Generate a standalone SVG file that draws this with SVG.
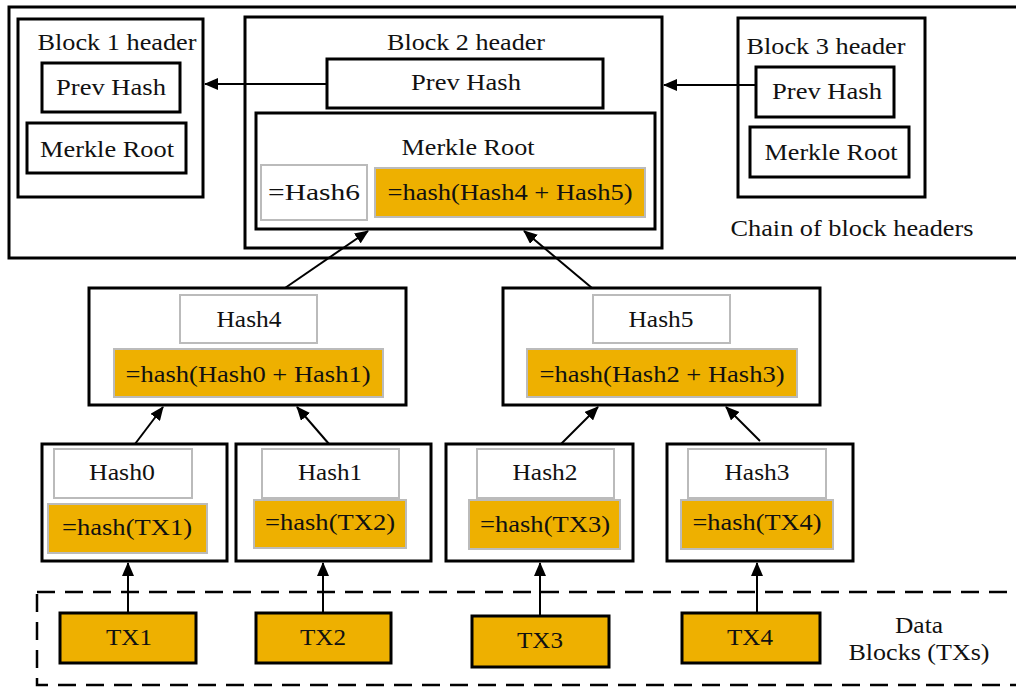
<svg xmlns="http://www.w3.org/2000/svg" width="1016" height="687" viewBox="0 0 1016 687">
<style>
text{font-family:"Liberation Serif","Times New Roman",serif;font-size:23px;fill:#111;text-anchor:middle}
.blk{fill:#fff;stroke:#000;stroke-width:3}
.wbox{fill:#fff;stroke:#bbb;stroke-width:2}
.obox{fill:#EEB000;stroke:#bbb;stroke-width:2}
.tx{fill:#EEB000;stroke:#000;stroke-width:3}
.con{stroke:#000;stroke-width:2;fill:none}
</style>
<defs>
<marker id="ah" markerUnits="userSpaceOnUse" markerWidth="14" markerHeight="12" refX="13" refY="6" orient="auto">
<path d="M0,0 L14,6 L0,12 z" fill="#000"/>
</marker>
</defs>
<rect width="1016" height="687" fill="#fff"/>
<g id="chain">
<rect x="9" y="7" width="1020" height="251" fill="#fff" stroke="#000" stroke-width="3"/>
<text x="852" y="236" textLength="243" lengthAdjust="spacingAndGlyphs">Chain of block headers</text>
</g>
<g id="data-blocks">
<rect x="37" y="592" width="995" height="93" fill="none" stroke="#000" stroke-width="2.5" stroke-dasharray="18 10"/>
<text x="919" y="633" textLength="48" lengthAdjust="spacingAndGlyphs">Data</text>
<text x="919" y="660" textLength="141" lengthAdjust="spacingAndGlyphs">Blocks (TXs)</text>
</g>
<g id="block1">
<rect class="blk" x="18" y="19" width="185" height="178"/>
<text x="117" y="50" textLength="159" lengthAdjust="spacingAndGlyphs">Block 1 header</text>
<rect class="blk" x="42" y="63" width="138" height="49"/>
<text x="111" y="95" textLength="110" lengthAdjust="spacingAndGlyphs">Prev Hash</text>
<rect class="blk" x="27" y="123" width="159" height="50"/>
<text x="107" y="157" textLength="134" lengthAdjust="spacingAndGlyphs">Merkle Root</text>
</g>
<g id="block2">
<rect class="blk" x="245" y="17" width="417" height="231"/>
<text x="466" y="50" textLength="158" lengthAdjust="spacingAndGlyphs">Block 2 header</text>
<rect class="blk" x="327" y="59" width="276" height="49"/>
<text x="466" y="90" textLength="110" lengthAdjust="spacingAndGlyphs">Prev Hash</text>
<rect class="blk" x="256" y="113" width="399" height="116"/>
<text x="468" y="155" textLength="133" lengthAdjust="spacingAndGlyphs">Merkle Root</text>
<rect class="wbox" x="261" y="165" width="106" height="55"/>
<text x="314" y="200" textLength="92" lengthAdjust="spacingAndGlyphs">=Hash6</text>
<rect class="obox" x="375" y="168" width="270" height="49"/>
<text x="510" y="200" textLength="245" lengthAdjust="spacingAndGlyphs">=hash(Hash4 + Hash5)</text>
</g>
<g id="block3">
<rect class="blk" x="738" y="18" width="187" height="179"/>
<text x="826" y="54" textLength="159" lengthAdjust="spacingAndGlyphs">Block 3 header</text>
<rect class="blk" x="756" y="67" width="138" height="50"/>
<text x="827" y="99" textLength="110" lengthAdjust="spacingAndGlyphs">Prev Hash</text>
<rect class="blk" x="750" y="127" width="159" height="50"/>
<text x="831" y="160" textLength="133" lengthAdjust="spacingAndGlyphs">Merkle Root</text>
</g>
<g id="hash4">
<rect class="blk" x="89" y="288" width="317" height="117"/>
<rect class="wbox" x="180" y="295" width="137" height="48"/>
<text x="249" y="327" textLength="65" lengthAdjust="spacingAndGlyphs">Hash4</text>
<rect class="obox" x="114" y="349" width="269" height="48"/>
<text x="248" y="382" textLength="245" lengthAdjust="spacingAndGlyphs">=hash(Hash0 + Hash1)</text>
</g>
<g id="hash5">
<rect class="blk" x="503" y="288" width="317" height="117"/>
<rect class="wbox" x="593" y="295" width="137" height="48"/>
<text x="661" y="327" textLength="65" lengthAdjust="spacingAndGlyphs">Hash5</text>
<rect class="obox" x="527" y="349" width="270" height="48"/>
<text x="662" y="382" textLength="245" lengthAdjust="spacingAndGlyphs">=hash(Hash2 + Hash3)</text>
</g>
<g id="hash0">
<rect class="blk" x="42" y="444" width="185" height="117"/>
<rect class="wbox" x="54" y="449" width="138" height="49"/>
<text x="122" y="480" textLength="66" lengthAdjust="spacingAndGlyphs">Hash0</text>
<rect class="obox" x="48" y="504" width="159" height="49"/>
<text x="127" y="535" textLength="130" lengthAdjust="spacingAndGlyphs">=hash(TX1)</text>
</g>
<g id="hash1">
<rect class="blk" x="236" y="444" width="195" height="117"/>
<rect class="wbox" x="262" y="449" width="137" height="49"/>
<text x="330" y="480" textLength="64" lengthAdjust="spacingAndGlyphs">Hash1</text>
<rect class="obox" x="254" y="500" width="152" height="48"/>
<text x="330" y="530" textLength="130" lengthAdjust="spacingAndGlyphs">=hash(TX2)</text>
</g>
<g id="hash2">
<rect class="blk" x="446" y="444" width="187" height="117"/>
<rect class="wbox" x="477" y="449" width="137" height="49"/>
<text x="545" y="480" textLength="65" lengthAdjust="spacingAndGlyphs">Hash2</text>
<rect class="obox" x="469" y="500" width="151" height="49"/>
<text x="545" y="532" textLength="130" lengthAdjust="spacingAndGlyphs">=hash(TX3)</text>
</g>
<g id="hash3">
<rect class="blk" x="667" y="444" width="186" height="117"/>
<rect class="wbox" x="688" y="449" width="138" height="49"/>
<text x="757" y="480" textLength="65" lengthAdjust="spacingAndGlyphs">Hash3</text>
<rect class="obox" x="681" y="500" width="152" height="49"/>
<text x="757" y="530" textLength="129" lengthAdjust="spacingAndGlyphs">=hash(TX4)</text>
</g>
<g id="tx1"><rect class="tx" x="60" y="613" width="136" height="50"/><text x="129" y="645" textLength="46" lengthAdjust="spacingAndGlyphs">TX1</text></g>
<g id="tx2"><rect class="tx" x="256" y="613" width="135" height="50"/><text x="323" y="645" textLength="46" lengthAdjust="spacingAndGlyphs">TX2</text></g>
<g id="tx3"><rect class="tx" x="472" y="616" width="137" height="51"/><text x="540" y="648" textLength="46" lengthAdjust="spacingAndGlyphs">TX3</text></g>
<g id="tx4"><rect class="tx" x="682" y="613" width="138" height="50"/><text x="750" y="645" textLength="46" lengthAdjust="spacingAndGlyphs">TX4</text></g>
<g id="connectors">
<line class="con" x1="327" y1="84" x2="205" y2="84" marker-end="url(#ah)"/>
<line class="con" x1="756" y1="85" x2="664" y2="85" marker-end="url(#ah)"/>
<line class="con" x1="285" y1="288" x2="368" y2="231" marker-end="url(#ah)"/>
<line class="con" x1="592" y1="288" x2="524" y2="231" marker-end="url(#ah)"/>
<line class="con" x1="135" y1="444" x2="163" y2="407" marker-end="url(#ah)"/>
<line class="con" x1="329" y1="444" x2="297" y2="407" stroke-width="3" marker-end="url(#ah)"/>
<line class="con" x1="561" y1="444" x2="598" y2="407" marker-end="url(#ah)"/>
<line class="con" x1="760" y1="441" x2="726" y2="407" marker-end="url(#ah)"/>
<line class="con" x1="128" y1="613" x2="128" y2="563" marker-end="url(#ah)"/>
<line class="con" x1="323" y1="613" x2="323" y2="563" marker-end="url(#ah)"/>
<line class="con" x1="540" y1="616" x2="540" y2="563" marker-end="url(#ah)"/>
<line class="con" x1="757" y1="613" x2="757" y2="563" marker-end="url(#ah)"/>
</g>
</svg>
